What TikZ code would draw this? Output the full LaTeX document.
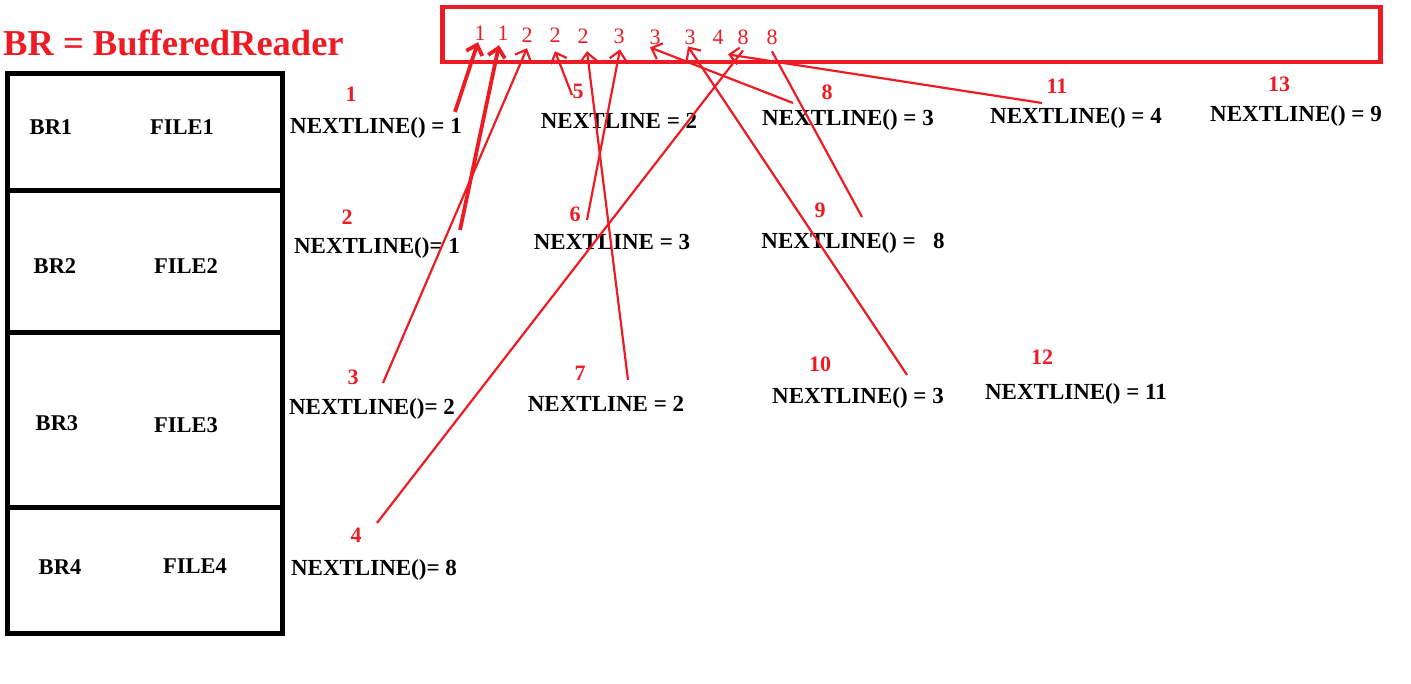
\documentclass[tikz,border=0pt]{standalone}
\usepackage{fontspec}
\setmainfont{Liberation Serif}
\usetikzlibrary{arrows.meta,positioning}
\definecolor{paintred}{RGB}{237,28,36}

\begin{document}
\begin{tikzpicture}[
        x=1pt, y=-1pt,
        fileBox/.style={rectangle, draw, line width=5pt, minimum width=275pt, inner sep=0pt, outer sep=0pt},
        boxText/.style={font=\fontsize{22.5}{22.5}\selectfont\bfseries, inner sep=0pt, anchor=base},
        valText/.style={font=\fontsize{23}{23}\selectfont\bfseries, inner sep=0pt, anchor=base},
        stepNum/.style={text=paintred, font=\fontsize{22}{22}\selectfont\bfseries, inner sep=0pt, anchor=base},
        seqNum/.style={text=paintred, font=\fontsize{22}{22}\selectfont, inner sep=0pt, anchor=base},
        readArrow/.style={draw=paintred, line width=2.2pt, -{Straight Barb[length=9pt,width=17pt]}},
        boldArrow/.style={readArrow, line width=3.8pt}
    ]
        \useasboundingbox (0,0) rectangle (1411,684);

        % Title
        \node[anchor=base west, inner sep=0pt, text=paintred, font=\fontsize{36.5}{36.5}\selectfont\bfseries] (title) at (3,56) {BR = BufferedReader};

        % Readers and files
        \node[fileBox, minimum height=117.5pt] (box1) at (145,132.25) {};
        \node[fileBox, minimum height=142pt, below=0pt of box1] (box2) {};
        \node[fileBox, minimum height=174pt, below=0pt of box2] (box3) {};
        \node[fileBox, minimum height=126pt, below=0pt of box3] (box4) {};
        \node[boxText] (br1) at (51,135) {BR1};
        \node[boxText] (f1) at (182,135) {FILE1};
        \node[boxText] (br2) at (55,274) {BR2};
        \node[boxText] (f2) at (186,274) {FILE2};
        \node[boxText] (br3) at (57,430) {BR3};
        \node[boxText] (f3) at (186,432) {FILE3};
        \node[boxText] (br4) at (60,574) {BR4};
        \node[boxText] (f4) at (195,573) {FILE4};

        % Merged output
        \draw[paintred, line width=4.5pt] (442.5,7) rectangle (1380.5,62);
        \node[seqNum] (t1) at (480,41) {1};
        \node[seqNum] (t2) at (503,41) {1};
        \node[seqNum] (t3) at (527,43) {2};
        \node[seqNum] (t4) at (555,43) {2};
        \node[seqNum] (t5) at (583,44) {2};
        \node[seqNum] (t6) at (619,44) {3};
        \node[seqNum] (t7) at (655,45) {3};
        \node[seqNum] (t8) at (690,45) {3};
        \node[seqNum] (t9) at (718,45) {4};
        \node[seqNum] (t10) at (743,45) {8};
        \node[seqNum] (t11) at (772,45) {8};

        % Steps
        \node[stepNum] (s1) at (351,102) {1};
        \node[valText] (v1) at (376,134) {NEXTLINE() = 1};
        \node[stepNum] (s2) at (347,225) {2};
        \node[valText] (v2) at (377,254) {NEXTLINE()= 1};
        \node[stepNum] (s3) at (353,385) {3};
        \node[valText] (v3) at (372,414) {NEXTLINE()= 2};
        \node[stepNum] (s4) at (356,542) {4};
        \node[valText] (v4) at (374,575) {NEXTLINE()= 8};
        \node[stepNum] (s5) at (578,99) {5};
        \node[valText] (v5) at (619,129) {NEXTLINE = 2};
        \node[stepNum] (s6) at (575,222) {6};
        \node[valText] (v6) at (612,250) {NEXTLINE = 3};
        \node[stepNum] (s7) at (580,381) {7};
        \node[valText] (v7) at (606,412) {NEXTLINE = 2};
        \node[stepNum] (s8) at (827,100) {8};
        \node[valText] (v8) at (848,126) {NEXTLINE() = 3};
        \node[stepNum] (s9) at (820,218) {9};
        \node[valText] (v9) at (853,249) {NEXTLINE() = \ \ 8};
        \node[stepNum] (s10) at (820,372) {10};
        \node[valText] (v10) at (858,404) {NEXTLINE() = 3};
        \node[stepNum] (s11) at (1057,94) {11};
        \node[valText] (v11) at (1076,124) {NEXTLINE() = 4};
        \node[stepNum] (s12) at (1042,365) {12};
        \node[valText] (v12) at (1076,400) {NEXTLINE() = 11};
        \node[stepNum] (s13) at (1279,92) {13};
        \node[valText] (v13) at (1296,122) {NEXTLINE() = 9};

        % Arrow ends
        \coordinate (a1) at (455,112);
        \coordinate (a2) at (460,230);
        \coordinate (a3) at (383,383);
        \coordinate (a4) at (377,523);
        \coordinate (a5) at (572,95);
        \coordinate (a6) at (587,220);
        \coordinate (a7) at (628,380);
        \coordinate (a8) at (793,103);
        \coordinate (a9) at (862,217);
        \coordinate (a10) at (907,375);
        \coordinate (a11) at (1042,103);

        % Edges
        \draw[boldArrow] (a1) -- ([xshift=-2pt,yshift=-1pt]t1.south);
        \draw[boldArrow] (a2) -- ([xshift=-4pt,yshift=-4pt]t2.south);
        \draw[readArrow] (a3) -- ([yshift=-5pt]t3.south);
        \draw[draw=paintred, line width=2.2pt] (a4) -- ([yshift=-5pt]t10.south);
        \draw[readArrow] (a5) -- ([yshift=-8pt]t4.south);
        \draw[readArrow] (a6) -- ([xshift=1pt,yshift=-5pt]t6.south);
        \draw[readArrow] (a7) -- ([xshift=4pt,yshift=-7pt]t5.south);
        \draw[readArrow] (a8) -- ([xshift=-5pt,yshift=-2pt]t7.south);
        \draw[draw=paintred, line width=2.2pt] (a9) -- ([yshift=-6pt]t11.south);
        \draw[readArrow] (a10) -- ([xshift=-2pt,yshift=-1pt]t8.south);
        \draw[readArrow] (a11) -- ([xshift=-15pt,yshift=-9pt]t10.south);
    \end{tikzpicture}
\end{document}
